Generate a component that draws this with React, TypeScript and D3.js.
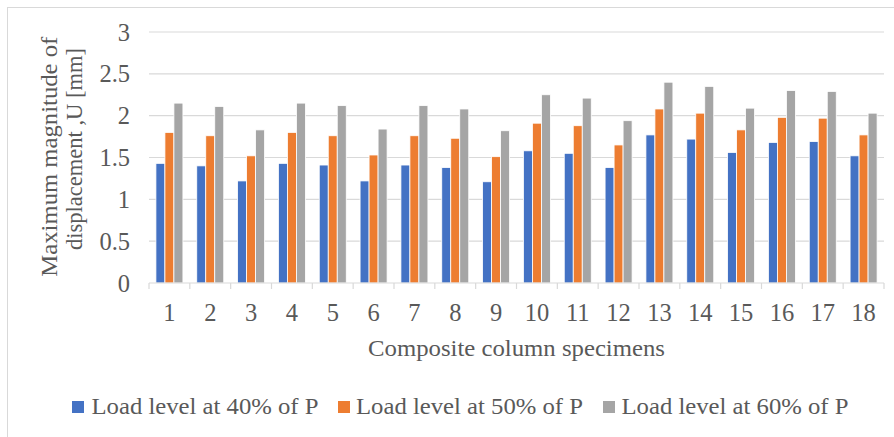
import React from "react";
import * as d3 from "d3";

const categories = ["1","2","3","4","5","6","7","8","9","10","11","12","13","14","15","16","17","18"];
const load40 = [1.43,1.40,1.22,1.43,1.41,1.22,1.41,1.38,1.21,1.58,1.55,1.38,1.77,1.72,1.56,1.68,1.69,1.52];
const load50 = [1.80,1.76,1.52,1.80,1.76,1.53,1.76,1.73,1.51,1.91,1.88,1.65,2.08,2.03,1.83,1.98,1.97,1.77];
const load60 = [2.15,2.11,1.83,2.15,2.12,1.84,2.12,2.08,1.82,2.25,2.21,1.94,2.40,2.35,2.09,2.30,2.29,2.03];
const seriesNames = ["Load level at 40% of P","Load level at 50% of P","Load level at 60% of P"];
const seriesColors = ["#4472C4","#ED7D31","#A5A5A5"];
const yTicks = [0,0.5,1,1.5,2,2.5,3];

const FONT = "'Liberation Serif','Times New Roman',serif";
const TXT = "#595959";

export default function App() {
  const W = 894, H = 437;
  const left = 149, right = 884, top = 32, bottom = 283;
  const y = d3.scaleLinear().domain([0, 3]).range([bottom, top]);
  const x0 = d3.scaleBand<string>().domain(categories).range([left, right]).paddingInner(0).paddingOuter(0);
  const groupW = 27;
  const x1 = d3.scaleBand<number>().domain([0,1,2]).range([0, groupW]);
  const series = [load40, load50, load60];
  const bw = x0.bandwidth();

  const legendItems = [
    { sx: 72, tx: 91.5 },
    { sx: 338, tx: 356 },
    { sx: 603, tx: 621.5 },
  ];

  return (
    <svg width={W} height={H} style={{ position: "absolute", left: 0, top: 0, background: "#fff" }}>
      <rect x={7.5} y={7.5} width={W + 10} height={H + 10} fill="#fff" stroke="#d9d9d9" strokeWidth={1} />
      {yTicks.map((t) => (
        <g key={t}>
          {t > 0 && (
            <line x1={left} x2={right} y1={y(t)} y2={y(t)} stroke="#d9d9d9" strokeWidth={1.2} />
          )}
          <text x={130} y={y(t)} dy="0.35em" textAnchor="end" fontFamily={FONT} fontSize={24.5} fill={TXT}>
            {String(t)}
          </text>
        </g>
      ))}
      {series.map((vals, si) =>
        vals.map((v, i) => (
          <rect
            key={`${si}-${i}`}
            x={(x0(categories[i]) as number) + (bw - groupW) / 2 + (x1(si) as number)}
            y={y(v)}
            width={x1.bandwidth()}
            height={bottom - y(v)}
            fill={seriesColors[si]}
            stroke="#fff"
            strokeWidth={0.8}
          />
        ))
      )}
      <line x1={left} x2={right} y1={bottom} y2={bottom} stroke="#d9d9d9" strokeWidth={1.2} />
      {categories.map((c) => (
        <line key={"tk" + c} x1={(x0(c) as number)} x2={(x0(c) as number)} y1={bottom} y2={bottom + 6} stroke="#d9d9d9" strokeWidth={1.2} />
      ))}
      <line x1={right} x2={right} y1={bottom} y2={bottom + 6} stroke="#d9d9d9" strokeWidth={1.2} />
      {categories.map((c) => (
        <text key={"xl" + c} x={(x0(c) as number) + bw / 2} y={321} textAnchor="middle" fontFamily={FONT} fontSize={24.5} fill={TXT}>
          {c}
        </text>
      ))}
      <text x={(left + right) / 2} y={356} textAnchor="middle" fontFamily={FONT} fontSize={24} fill={TXT}
        textLength={297} lengthAdjust="spacingAndGlyphs">
        Composite column specimens
      </text>
      <g transform="rotate(-90)">
        <text x={-156.7} y={57} textAnchor="middle" fontFamily={FONT} fontSize={24} fill={TXT}
          textLength={240} lengthAdjust="spacingAndGlyphs">
          Maximum magnitude of
        </text>
        <text x={-149} y={82} textAnchor="middle" fontFamily={FONT} fontSize={24} fill={TXT}
          textLength={202} lengthAdjust="spacingAndGlyphs">
          displacement ,U [mm]
        </text>
      </g>
      {seriesNames.map((n, i) => (
        <g key={n}>
          <rect x={legendItems[i].sx} y={401} width={12} height={12} fill={seriesColors[i]} />
          <text x={legendItems[i].tx} y={414} fontFamily={FONT} fontSize={24} fill={TXT}
            textLength={227} lengthAdjust="spacingAndGlyphs">
            {n}
          </text>
        </g>
      ))}
    </svg>
  );
}
